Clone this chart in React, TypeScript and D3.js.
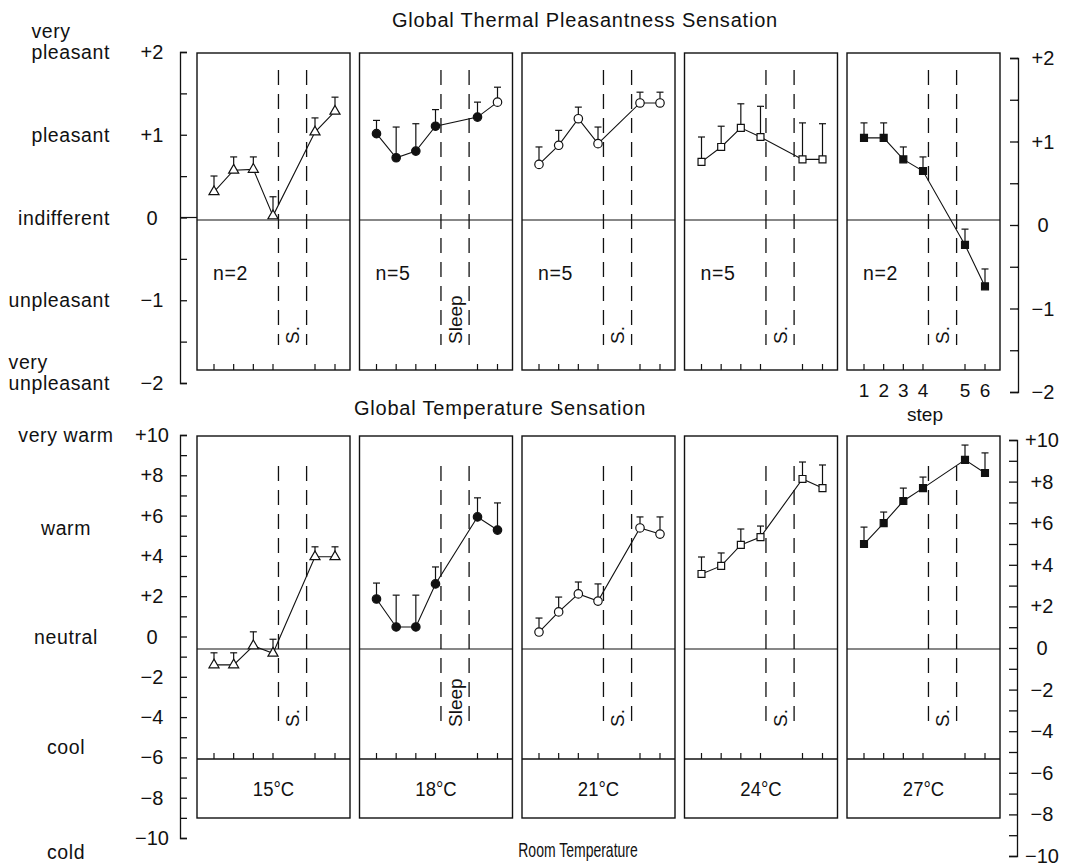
import React, { useRef, useEffect } from "react";
import * as d3 from "d3";

// room temperature conditions (one panel each)
const rooms = ["15°C", "18°C", "21°C", "24°C", "27°C"];
const sampleSizes = [2, 5, 5, 5, 2];
const sleepLabels = ["S.", "Sleep", "S.", "S.", "S."];
const markerShapes = ["triangle", "circle", "circle", "square", "square"];
const markerFilled = [false, true, false, false, true];
const steps = [1, 2, 3, 4, 5, 6];

// global thermal pleasantness sensation (mean, error)
const pleas15 = [0.34, 0.6, 0.61, 0.05, 1.06, 1.31];
const pleas15Err = [0.19, 0.16, 0.15, 0.23, 0.17, 0.17];
const pleas18 = [1.04, 0.75, 0.83, 1.13, 1.24, 1.42];
const pleas18Err = [0.16, 0.37, 0.33, 0.2, 0.18, 0.18];
const pleas21 = [0.67, 0.9, 1.22, 0.92, 1.41, 1.41];
const pleas21Err = [0.21, 0.18, 0.14, 0.2, 0.13, 0.13];
const pleas24 = [0.7, 0.88, 1.11, 1.0, 0.73, 0.73];
const pleas24Err = [0.3, 0.25, 0.29, 0.37, 0.44, 0.43];
const pleas27 = [0.99, 0.99, 0.73, 0.59, -0.3, -0.8];
const pleas27Err = [0.18, 0.18, 0.15, 0.17, 0.19, 0.21];

// global temperature sensation (mean, error)
const temp15 = [-0.75, -0.75, 0.15, -0.2, 4.35, 4.35];
const temp15Err = [0.57, 0.57, 0.66, 0.66, 0.47, 0.47];
const temp18 = [2.36, 1.04, 1.04, 3.07, 6.23, 5.61];
const temp18Err = [0.75, 1.5, 1.5, 0.8, 0.9, 1.28];
const temp21 = [0.8, 1.75, 2.6, 2.26, 5.71, 5.42];
const temp21Err = [0.66, 0.7, 0.56, 0.81, 0.52, 0.81];
const temp24 = [3.54, 3.92, 4.91, 5.28, 8.02, 7.59];
const temp24Err = [0.8, 0.61, 0.75, 0.52, 0.8, 1.09];
const temp27 = [4.95, 5.94, 6.98, 7.59, 8.92, 8.3];
const temp27Err = [0.8, 0.52, 0.61, 0.52, 0.7, 0.95];

const pleasMeans = [pleas15, pleas18, pleas21, pleas24, pleas27];
const pleasErrs = [pleas15Err, pleas18Err, pleas21Err, pleas24Err, pleas27Err];
const tempMeans = [temp15, temp18, temp21, temp24, temp27];
const tempErrs = [temp15Err, temp18Err, temp21Err, temp24Err, temp27Err];

// axis ticks and verbal scale
const pleasTicks = [2, 1, 0, -1, -2];
const pleasTickLabels = ["+2", "+1", "0", "−1", "−2"];
const pleasWords = [["very", "pleasant"], ["pleasant"], ["indifferent"], ["unpleasant"], ["very", "unpleasant"]];
const pleasWordAt = [2, 1, 0, -1, -2];
const tempTicks = [10, 8, 6, 4, 2, 0, -2, -4, -6, -8, -10];
const tempTickLabels = ["+10", "+8", "+6", "+4", "+2", "0", "−2", "−4", "−6", "−8", "−10"];
const tempWords = ["very warm", "warm", "neutral", "cool", "cold"];
const tempWordAt = [10, 5.4, 0, -5.5, -10.7];

// sleep period sits between step 4 and step 5
const sleepStart = 4.13;
const sleepEnd = 4.8;

const W = 1069;
const H = 866;
const FONT = "'Liberation Sans', Arial, Helvetica, sans-serif";

const App = () => {
  const svgRef = useRef(null);

  useEffect(() => {
    const svg = d3.select(svgRef.current);
    svg.selectAll("*").remove();

    const panelX = (i) => 197 + i * 162.5;
    const panelW = 153;
    const stepScale = (i) =>
      d3.scaleLinear().domain([1, 4, 5, 6]).range([17, 76, 118, 138].map((d) => d + panelX(i)));

    // y scales (the scanned axes sit slightly off the panels)
    const yP = d3.scaleLinear().domain([-2, 2]).range([386, 54]);
    const yPL = d3.scaleLinear().domain([-2, 2]).range([383, 52]);
    const yPR = d3.scaleLinear().domain([-2, 2]).range([392, 58]);
    const yT = d3.scaleLinear().domain([-10, 10]).range([861, 437]);
    const yTL = d3.scaleLinear().domain([-10, 10]).range([838, 435]);
    const yTR = d3.scaleLinear().domain([-10, 10]).range([856, 440]);

    const topBox = [53, 370];
    const botBox = [436, 759, 818];

    const txt = (g, x, y, s, size, anchor = "middle", spacing = 0) =>
      g.append("text").attr("x", x).attr("y", y).attr("text-anchor", anchor)
        .attr("font-family", FONT).attr("font-size", size).attr("letter-spacing", spacing)
        .attr("fill", "#111").text(s);

    // condensed text, like the typeset strip labels
    const narrow = (g, x, y, s, size, sx) =>
      g.append("text").attr("transform", `translate(${x},${y}) scale(${sx},1)`)
        .attr("text-anchor", "middle").attr("font-family", FONT).attr("font-size", size)
        .attr("fill", "#111").text(s);

    // titles
    txt(svg, 585, 27, "Global Thermal Pleasantness Sensation", 20, "middle", 0.8);
    txt(svg, 500, 415, "Global Temperature Sensation", 20, "middle", 0.8);
    narrow(svg, 578, 857, "Room Temperature", 20, 0.7);

    // axes
    const axisStyle = (g) => g.selectAll("path,line").attr("stroke", "#111").attr("stroke-width", 1.3);

    svg.append("g").attr("transform", "translate(180,0)")
      .call(d3.axisRight(yPL).tickValues(d3.range(-2, 2.01, 0.5)).tickSize(7).tickSizeOuter(7).tickFormat(() => ""))
      .call(axisStyle);
    svg.append("g").attr("transform", "translate(1018,0)")
      .call(d3.axisLeft(yPR).tickValues(d3.range(-2, 2.01, 0.5)).tickSize(8).tickSizeOuter(8).tickFormat(() => ""))
      .call(axisStyle);
    svg.append("g").attr("transform", "translate(180,0)")
      .call(d3.axisRight(yTL).tickValues(d3.range(-10, 10.01, 1)).tickSize(7).tickSizeOuter(7).tickFormat(() => ""))
      .call(axisStyle);
    svg.append("g").attr("transform", "translate(1017,0)")
      .call(d3.axisLeft(yTR).tickValues(d3.range(-10, 10.01, 1)).tickSize(8).tickSizeOuter(8).tickFormat(() => ""))
      .call(axisStyle);
    svg.selectAll(".domain").attr("fill", "none");

    pleasTicks.forEach((v, i) => {
      txt(svg, 152, yPL(v) + 7, pleasTickLabels[i], 20);
      txt(svg, 1043, yPR(v) + 7, pleasTickLabels[i], 20);
    });
    tempTicks.forEach((v, i) => {
      txt(svg, 152, yTL(v) + 7, tempTickLabels[i], 20);
      txt(svg, 1042, yTR(v) + 7, tempTickLabels[i], 20);
    });

    // verbal anchors on the left
    pleasWords.forEach((lines, i) => {
      const y = yPL(pleasWordAt[i]) + 7;
      const last = txt(svg, 110, y, lines[lines.length - 1], 19.5, "end", 0.6);
      if (lines.length > 1) {
        const bx = last.node().getBBox().x;
        txt(svg, bx, y - 21, lines[0], 19.5, "start", 0.6);
      }
    });
    tempWords.forEach((w, i) => txt(svg, 66, yTL(tempWordAt[i]) + 7, w, 19.5, "middle", 0.6));

    // zero line links left axis to first top panel
    svg.append("line").attr("x1", 180).attr("x2", panelX(0)).attr("y1", yPL(0)).attr("y2", yPL(0))
      .attr("stroke", "#111").attr("stroke-width", 1.2);

    const drawMarker = (g, shape, filled, x, y) => {
      const type = shape === "triangle" ? d3.symbolTriangle : shape === "square" ? d3.symbolSquare : d3.symbolCircle;
      const size = shape === "triangle" ? 44 : shape === "square" ? 48 : 56;
      g.append("path").attr("d", d3.symbol().type(type).size(size)())
        .attr("transform", `translate(${x},${y})`)
        .attr("fill", filled ? "#111" : "#fff").attr("stroke", "#111").attr("stroke-width", 1.2);
    };

    const drawPanel = (i, means, errs, y, box, dashY, labelY, showN, openLast) => {
      const g = svg.append("g");
      const x0 = panelX(i);
      const xs = stepScale(i);
      // frame
      g.append("rect").attr("x", x0).attr("y", box[0]).attr("width", panelW).attr("height", box[box.length - 1] - box[0])
        .attr("fill", "none").attr("stroke", "#111").attr("stroke-width", 1.4);
      if (box.length > 2) {
        g.append("line").attr("x1", x0).attr("x2", x0 + panelW).attr("y1", box[1]).attr("y2", box[1])
          .attr("stroke", "#111").attr("stroke-width", 1.4);
      }
      steps.forEach((s) => {
        g.append("line").attr("x1", xs(s)).attr("x2", xs(s)).attr("y1", box[1]).attr("y2", box[1] - 6)
          .attr("stroke", "#111").attr("stroke-width", 1.2);
      });
      // zero line
      g.append("line").attr("x1", x0).attr("x2", x0 + panelW).attr("y1", y(0)).attr("y2", y(0))
        .attr("stroke", "#111").attr("stroke-width", 1.2);
      // sleep period
      [sleepStart, sleepEnd].forEach((s) => {
        g.append("line").attr("x1", xs(s)).attr("x2", xs(s)).attr("y1", dashY[0]).attr("y2", dashY[1])
          .attr("stroke", "#111").attr("stroke-width", 1.3).attr("stroke-dasharray", "15,9");
      });
      g.append("text")
        .attr("transform", `translate(${xs((sleepStart + sleepEnd) / 2)},${labelY}) rotate(-90)`)
        .attr("dy", "0.36em").attr("font-family", FONT).attr("font-size", 19).attr("fill", "#111")
        .text(sleepLabels[i]);
      if (showN) txt(g, x0 + 16, 280, "n=" + sampleSizes[i], 19.5, "start", 0.6);
      // error bars
      means.forEach((m, k) => {
        const x = xs(steps[k]);
        g.append("line").attr("x1", x).attr("x2", x).attr("y1", y(m)).attr("y2", y(m + errs[k]))
          .attr("stroke", "#111").attr("stroke-width", 1.2);
        g.append("line").attr("x1", x - 3.5).attr("x2", x + 3.5).attr("y1", y(m + errs[k])).attr("y2", y(m + errs[k]))
          .attr("stroke", "#111").attr("stroke-width", 1.2);
      });
      // mean line
      const line = d3.line().x((d, k) => xs(steps[k])).y((d) => y(d));
      g.append("path").attr("d", line(means)).attr("fill", "none").attr("stroke", "#111").attr("stroke-width", 1.1);
      means.forEach((m, k) => {
        const filled = markerFilled[i] && !(openLast && k === means.length - 1);
        drawMarker(g, markerShapes[i], filled, xs(steps[k]), y(m));
      });
    };

    rooms.forEach((room, i) => {
      drawPanel(i, pleasMeans[i], pleasErrs[i], yP, topBox, [70, 345], 344, true, i === 1);
      drawPanel(i, tempMeans[i], tempErrs[i], yT, botBox, [466, 728], 727, false, false);
      narrow(svg, panelX(i) + panelW / 2, 796, room, 21, 0.88);
    });

    // step numbering under last top panel
    const xs5 = stepScale(4);
    steps.forEach((s) => txt(svg, xs5(s), 397, String(s), 19));
    txt(svg, 925, 421, "step", 19);
  }, []);

  return (
    <div>
      <svg ref={svgRef} width={W} height={H}
        style={{ position: "absolute", left: 0, top: 0, background: "#fff" }}></svg>
    </div>
  );
};

export default App;
